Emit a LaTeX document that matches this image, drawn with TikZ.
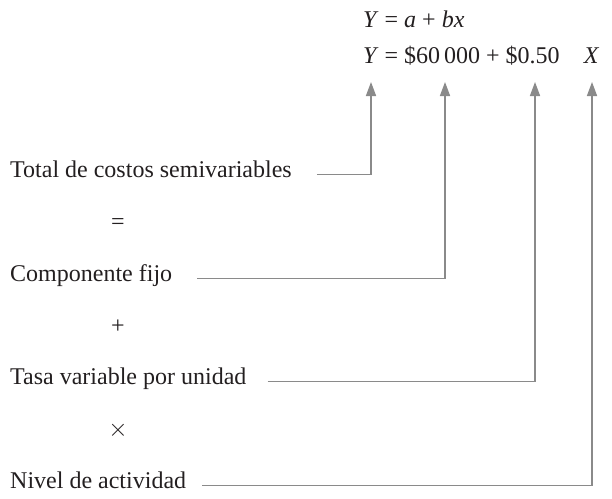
\documentclass[tikz,border=0pt]{standalone}
\usepackage{fontspec}
\setmainfont{Liberation Serif}
\usetikzlibrary{arrows.meta,positioning,calc}
\usepackage{xcolor}
\definecolor{linegray}{RGB}{138,138,138}
\definecolor{inkgray}{RGB}{35,31,32}

\begin{document}
\begin{tikzpicture}[x=1pt, y=-1pt, font=\fontsize{24}{28}\selectfont, text=inkgray,
    lbl/.style={anchor=base west, inner sep=0pt, text height=0.68em, text depth=0.18em},
    op/.style={anchor=base, inner sep=0pt},
    link/.style={draw=linegray, line width=1.6pt, -{Triangle[length=14pt, width=10pt]}}]
    \useasboundingbox (0,0) rectangle (612,498);

    % Equations
    \node[lbl] (eqa) at (363,27) {\textit{Y} = \textit{a} + \textit{bx}};
    \node[lbl] (eqb) at (363,63) {\textit{Y} = \$60\,000 + \$0.50\quad\textit{X}};

    % Arrow tips under the terms
    \coordinate (tipY) at (371,82);
    \coordinate (tipA) at (445,82);
    \coordinate (tipB) at (535,82);
    \coordinate (tipX) at (592,82);

    % Labels
    \node[lbl] (total) at (10,177) {Total de costos semivariables};
    \node[op] (eq) at (118,229) {=};
    \node[lbl] (fijo) at (10,281) {Componente fijo};
    \node[op] (plus) at (118,333) {+};
    \node[lbl] (tasa) at (10,384) {Tasa variable por unidad};
    \node[op] (times) at (118,436) {$\times$};
    \node[lbl] (nivel) at (10,488) {Nivel de actividad};

    % Arrows
    \draw[link] ([xshift=25pt]total.east) -| (tipY);
    \draw[link] ([xshift=25pt]fijo.east) -| (tipA);
    \draw[link] ([xshift=21pt]tasa.east) -| (tipB);
    \draw[link] ([xshift=16pt]nivel.east) -| (tipX);
\end{tikzpicture}
\end{document}
